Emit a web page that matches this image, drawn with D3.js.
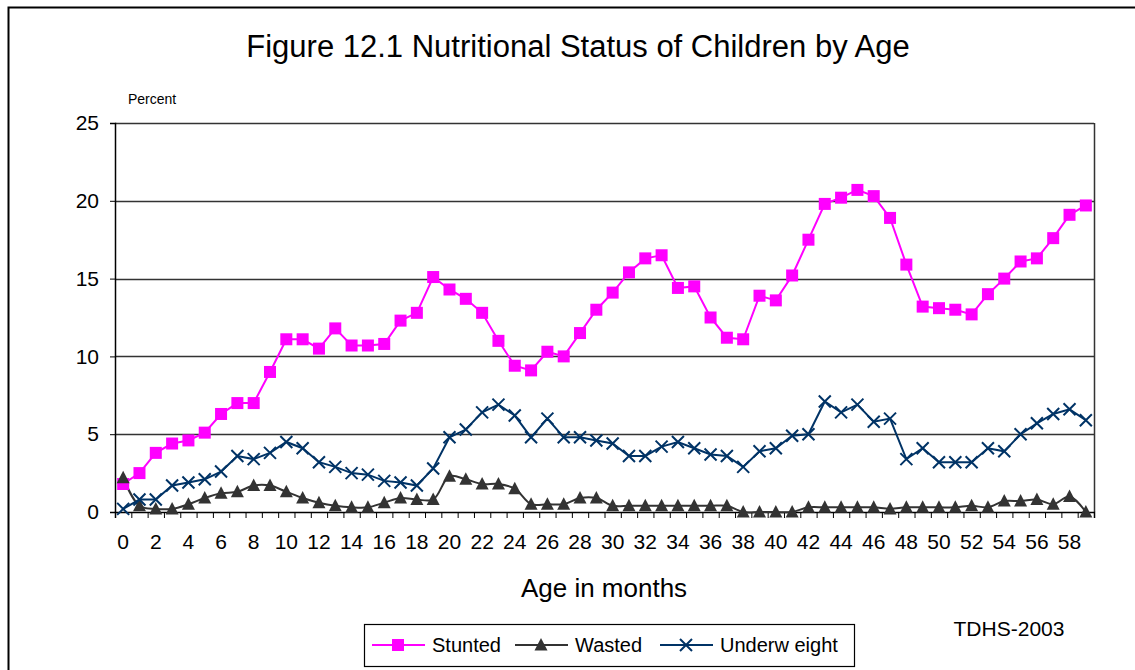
<!DOCTYPE html>
<html>
<head>
<meta charset="utf-8">
<script src="https://cdn.jsdelivr.net/npm/d3@7"></script>
<style>
  body { margin: 0; background: #fff; }
  svg { display: block; font-family: "Liberation Sans", Arial, sans-serif; }
</style>
</head>
<body>
<div id="chart"></div>
<script>
// age in months, 0..59
const months = d3.range(0, 60);

const stunted = [1.8, 2.5, 3.8, 4.4, 4.6, 5.1, 6.3, 7.0, 7.0, 9.0,
  11.1, 11.1, 10.5, 11.8, 10.7, 10.7, 10.8, 12.3, 12.8, 15.1,
  14.3, 13.7, 12.8, 11.0, 9.4, 9.1, 10.3, 10.0, 11.5, 13.0,
  14.1, 15.4, 16.3, 16.5, 14.4, 14.5, 12.5, 11.2, 11.1, 13.9,
  13.6, 15.2, 17.5, 19.8, 20.2, 20.7, 20.3, 18.9, 15.9, 13.2,
  13.1, 13.0, 12.7, 14.0, 15.0, 16.1, 16.3, 17.6, 19.1, 19.7];

const wasted = [2.2, 0.4, 0.2, 0.2, 0.5, 0.9, 1.2, 1.3, 1.7, 1.7,
  1.3, 0.9, 0.6, 0.4, 0.3, 0.3, 0.6, 0.9, 0.8, 0.8,
  2.3, 2.1, 1.8, 1.8, 1.5, 0.5, 0.5, 0.5, 0.9, 0.9,
  0.4, 0.4, 0.4, 0.4, 0.4, 0.4, 0.4, 0.4, 0.0, 0.0,
  0.0, 0.0, 0.3, 0.3, 0.3, 0.3, 0.3, 0.2, 0.3, 0.3,
  0.3, 0.3, 0.4, 0.3, 0.7, 0.7, 0.8, 0.5, 1.0, 0.0];

const underweight = [0.2, 0.8, 0.8, 1.7, 1.9, 2.1, 2.6, 3.6, 3.4, 3.8,
  4.5, 4.1, 3.2, 2.9, 2.5, 2.4, 2.0, 1.9, 1.7, 2.8,
  4.8, 5.3, 6.4, 6.9, 6.2, 4.8, 6.0, 4.8, 4.8, 4.6,
  4.4, 3.6, 3.6, 4.2, 4.5, 4.1, 3.7, 3.6, 2.9, 3.9,
  4.1, 4.9, 5.0, 7.1, 6.4, 6.9, 5.8, 6.0, 3.4, 4.1,
  3.2, 3.2, 3.2, 4.1, 3.9, 5.0, 5.7, 6.3, 6.6, 5.9];

const yTicks = [0, 5, 10, 15, 20, 25];
const xLabels = months.filter(m => m % 2 === 0);

const series = [
  { name: "Stunted", label: "Stunted", values: stunted, color: "#ff00ff", marker: "square", curve: d3.curveLinear },
  { name: "Wasted", label: "Wasted", values: wasted, color: "#333333", marker: "triangle", curve: d3.curveCatmullRom.alpha(0.5) },
  { name: "Underweight", label: "Underw eight", values: underweight, color: "#003366", marker: "cross", curve: d3.curveLinear }
];

const width = 1135, height = 670;
const plot = { left: 115, right: 1094, top: 123, bottom: 512 };

const svg = d3.select("#chart").append("svg")
  .attr("width", width)
  .attr("height", height);

// outer frame of the chart (right and bottom edges fall outside the picture)
svg.append("rect")
  .attr("x", 8.5).attr("y", 7.5)
  .attr("width", 1200).attr("height", 700)
  .attr("fill", "none").attr("stroke", "#000").attr("stroke-width", 2);

const x = d3.scaleBand().domain(months).range([plot.left, plot.right]).padding(0);
const xEdge = d3.scaleLinear().domain([0, months.length]).range([plot.left, plot.right]);
const y = d3.scaleLinear().domain([0, 25]).range([plot.bottom, plot.top]);
const cx = d => x(d) + x.bandwidth() / 2;

// gridlines
svg.append("g")
  .selectAll("line")
  .data(yTicks.filter(t => t > 0))
  .join("line")
  .attr("x1", plot.left).attr("x2", plot.right)
  .attr("y1", d => Math.round(y(d)) + 0.5).attr("y2", d => Math.round(y(d)) + 0.5)
  .attr("stroke", "#333").attr("stroke-width", 1.3);

// right frame of plot area
svg.append("line")
  .attr("x1", plot.right + 0.5).attr("x2", plot.right + 0.5)
  .attr("y1", plot.top).attr("y2", plot.bottom)
  .attr("stroke", "#333").attr("stroke-width", 1.5);

// y axis
const yAxis = svg.append("g")
  .attr("transform", `translate(${plot.left},0)`)
  .call(d3.axisLeft(y).tickValues(yTicks).tickSize(5).tickPadding(11));
yAxis.select(".domain").attr("stroke", "#000").attr("stroke-width", 1.5);
yAxis.selectAll(".tick line").attr("stroke", "#000");
yAxis.selectAll("text").attr("font-size", 21).attr("fill", "#000")
  .attr("font-family", "Liberation Sans, Arial, sans-serif");

// x axis: ticks on category boundaries
const xTicks = svg.append("g")
  .attr("transform", `translate(0,${plot.bottom})`)
  .call(d3.axisBottom(xEdge).tickValues(d3.range(0, months.length + 1)).tickSize(6).tickFormat(""));
xTicks.select(".domain").attr("stroke", "#000").attr("stroke-width", 1.5);
xTicks.selectAll(".tick line").attr("stroke", "#000");

// x labels at category centres
const xAxis = svg.append("g")
  .attr("transform", `translate(0,${plot.bottom})`)
  .call(d3.axisBottom(x).tickValues(xLabels).tickSize(0).tickPadding(22));
xAxis.select(".domain").remove();
xAxis.selectAll("text").attr("font-size", 21).attr("fill", "#000")
  .attr("font-family", "Liberation Sans, Arial, sans-serif");

// lines
series.forEach(s => {
  const line = d3.line()
    .x((d, i) => cx(months[i]))
    .y(d => y(d))
    .curve(s.curve);
  svg.append("path")
    .attr("d", line(s.values))
    .attr("fill", "none")
    .attr("stroke", s.color)
    .attr("stroke-width", 2);
});

// markers
function drawMarker(g, type, color) {
  if (type === "square") {
    g.append("rect").attr("x", -6).attr("y", -6).attr("width", 12).attr("height", 12)
      .attr("fill", color);
  } else if (type === "triangle") {
    g.append("path").attr("d", "M0,-7L6.5,5.5L-6.5,5.5Z").attr("fill", color);
  } else {
    g.append("path").attr("d", "M-6,-6L6,6M-6,6L6,-6")
      .attr("stroke", color).attr("stroke-width", 2).attr("fill", "none");
  }
}

series.forEach(s => {
  svg.append("g")
    .selectAll("g")
    .data(s.values)
    .join("g")
    .attr("transform", (d, i) => `translate(${cx(months[i])},${y(d)})`)
    .each(function () { drawMarker(d3.select(this), s.marker, s.color); });
});

// texts
svg.append("text")
  .attr("x", 578).attr("y", 57)
  .attr("text-anchor", "middle")
  .attr("font-size", 31)
  .text("Figure 12.1 Nutritional Status of Children by Age");

svg.append("text")
  .attr("x", 128).attr("y", 104)
  .attr("font-size", 14)
  .text("Percent");

svg.append("text")
  .attr("x", 604).attr("y", 597)
  .attr("text-anchor", "middle")
  .attr("font-size", 26)
  .text("Age in months");

svg.append("text")
  .attr("x", 1009).attr("y", 636)
  .attr("text-anchor", "middle")
  .attr("font-size", 21)
  .text("TDHS-2003");

// legend
const legend = svg.append("g").attr("transform", "translate(364,624)");
legend.append("rect")
  .attr("x", 0.5).attr("y", 0.5).attr("width", 490).attr("height", 42)
  .attr("fill", "#fff").attr("stroke", "#000").attr("stroke-width", 1.2);

const legendX = [8, 151, 296];
series.forEach((s, i) => {
  const g = legend.append("g").attr("transform", `translate(${legendX[i]},21)`);
  g.append("line").attr("x1", 0).attr("x2", 53).attr("stroke", s.color).attr("stroke-width", 2);
  drawMarker(g.append("g").attr("transform", "translate(26,0)"), s.marker, s.color);
  g.append("text").attr("x", 60).attr("y", 7).attr("font-size", 20).text(s.label);
});
</script>
</body>
</html>
